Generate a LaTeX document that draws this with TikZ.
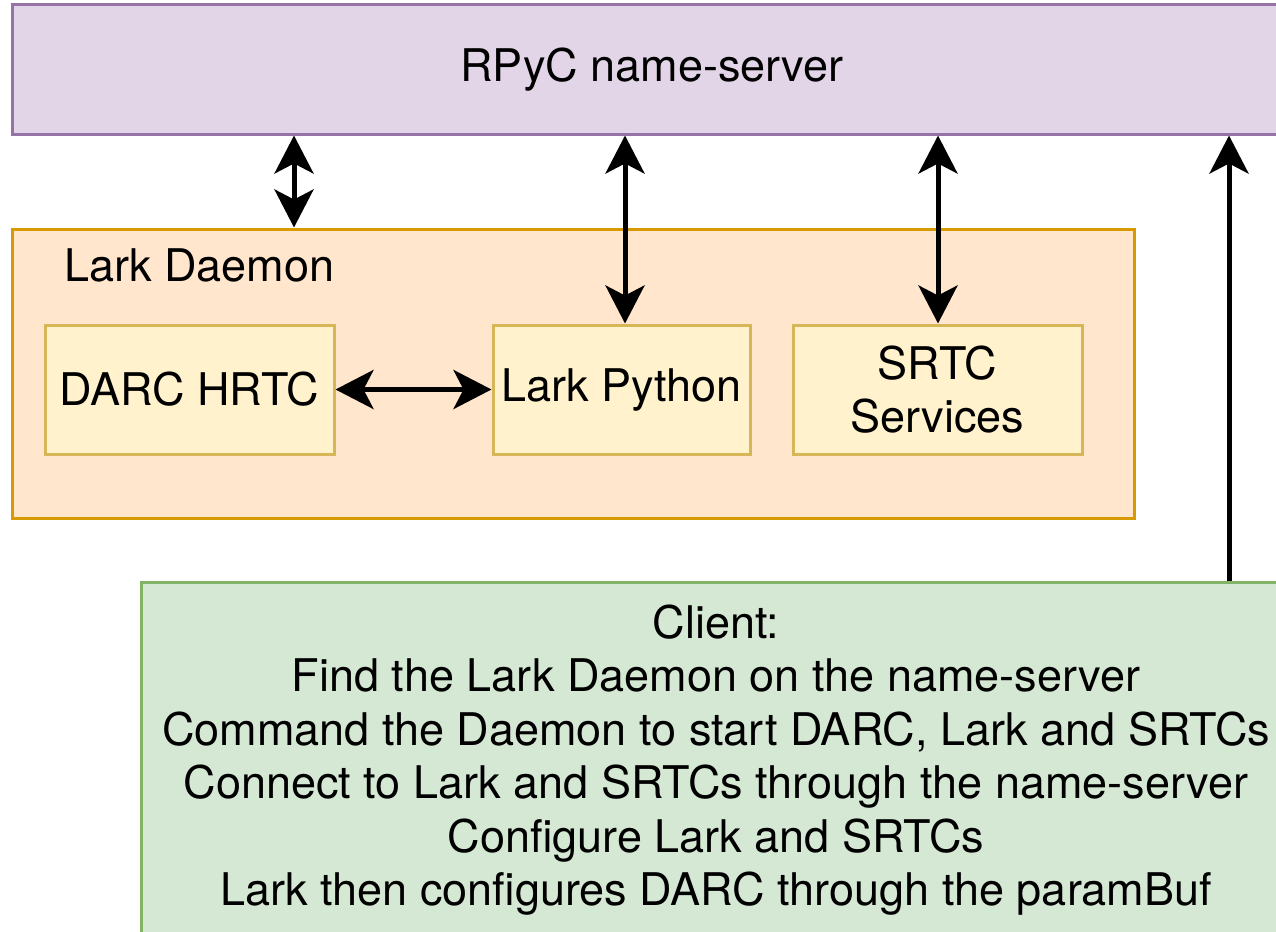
\documentclass[tikz,border=0pt]{standalone}
\usepackage{fontspec}
\setmainfont{TeX Gyre Heros}
\usetikzlibrary{arrows.meta,calc}
\definecolor{pfill}{HTML}{E1D5E7}
\definecolor{pdraw}{HTML}{9673A6}
\definecolor{ofill}{HTML}{FFE6CC}
\definecolor{odraw}{HTML}{D79B00}
\definecolor{yfill}{HTML}{FFF2CC}
\definecolor{ydraw}{HTML}{D6B656}
\definecolor{gfill}{HTML}{D5E8D4}
\definecolor{gdraw}{HTML}{82B366}
\tikzset{
  box/.style={rectangle, line width=3pt, inner sep=0pt, align=center},
  big/.style={font=\fontsize{45}{53.5}\selectfont},
  tip/.style={},
  arr/.style={line width=5pt, -{Stealth[length=38pt,width=39pt,inset=10pt]}},
  dbl/.style={line width=5pt, {Stealth[length=38pt,width=39pt,inset=10pt]}-{Stealth[length=38pt,width=39pt,inset=10pt]}}
}
\begin{document}
\begin{tikzpicture}[x=1pt,y=-1pt]
\useasboundingbox (0,0) rectangle (1276,931);
\clip (0,0) rectangle (1276,931);
\node[box, big, fill=pfill, draw=pdraw, minimum width=1280pt, minimum height=129pt] (ns) at (652,69.5) {RPyC name-server};
\node[box, fill=ofill, draw=odraw, minimum width=1122pt, minimum height=289pt] (ld) at (573,373.5) {};
\node[big, anchor=west, inner sep=0pt] (ldl) at (64,265) {Lark Daemon};
\node[box, big, fill=yfill, draw=ydraw, minimum width=289pt, minimum height=129pt] (darc) at (189.5,389.5) {DARC HRTC};
\node[box, big, fill=yfill, draw=ydraw, minimum width=257pt, minimum height=129pt] (lp) at (621.5,389.5) {Lark Python};
\node[box, big, fill=yfill, draw=ydraw, minimum width=289pt, minimum height=129pt] (srtc) at (937.5,389.5) {SRTC\\Services};
\node[box, big, fill=gfill, draw=gdraw, minimum width=1150pt, minimum height=356pt] (cl) at (716,760) {Client:\\Find the Lark Daemon on the name-server\\Command the Daemon to start DARC, Lark and SRTCs\\Connect to Lark and SRTCs through the name-server\\Configure Lark and SRTCs\\Lark then configures DARC through the paramBuf};
\coordinate (x1) at (294,0);
\coordinate (x2) at (625,0);
\coordinate (x3) at (938,0);
\coordinate (x4) at (1229,0);
\draw[dbl] (ld.north -| x1) -- (ns.south -| x1);
\draw[dbl] (lp.north -| x2) -- (ns.south -| x2);
\draw[dbl] (srtc.north -| x3) -- (ns.south -| x3);
\draw[arr] (cl.north -| x4) -- (ns.south -| x4);
\draw[dbl] (darc.east) -- (lp.west);
\end{tikzpicture}
\end{document}
